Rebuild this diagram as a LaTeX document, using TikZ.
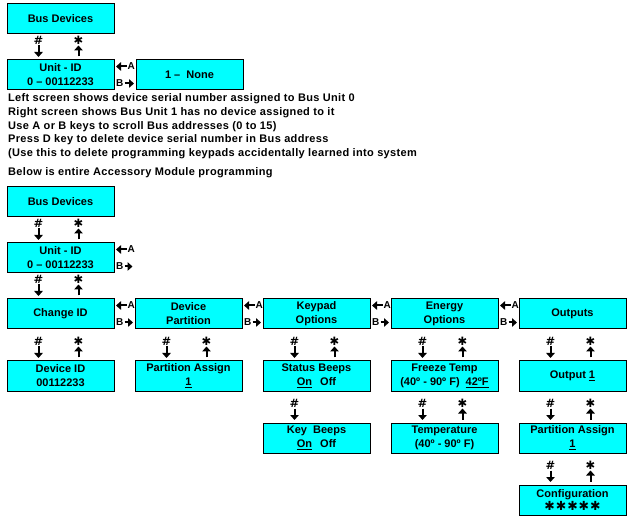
\documentclass[tikz,border=0pt]{standalone}
\usepackage{fontspec}
\setmainfont{Liberation Sans}
\newfontfamily\symfont{DejaVu Sans}
\usetikzlibrary{arrows.meta,calc}
\definecolor{lcd}{RGB}{0,255,255}

\tikzset{
    screen/.style={draw, line width=1pt, fill=lcd, minimum width=107pt, minimum height=30pt,
        inner sep=0pt, align=center, font=\bfseries\fontsize{11}{14}\selectfont},
    keylbl/.style={inner sep=0pt, font=\symfont\bfseries\fontsize{11.5}{13}\selectfont},
    ablbl/.style={inner sep=0pt, font=\bfseries\fontsize{10}{12}\selectfont},
    keyarr/.style={line width=2pt, -{Triangle[length=5pt,width=8.5pt]}},
    note/.style={anchor=base west, inner sep=0pt,
        font=\bfseries\fontsize{11}{13}\selectfont\addfontfeatures{LetterSpace=3}},
}
\newcommand{\astk}{{\symfont ✱}}
% # down into box #1
\newcommand{\hashdown}[2]{%
    \node[keylbl, anchor=south] (#2) at ($(#1.north west)+(32pt,15pt)$) {\#};
    \draw[keyarr, shorten <=1pt, shorten >=2.5pt] (#2.south) -- (#2.south |- #1.north);
}
% * up out of box #1
\newcommand{\starup}[2]{%
    \node[keylbl, anchor=south] (#2) at ($(#1.north west)+(72pt,15pt)$) {\astk};
    \draw[keyarr, shorten <=3pt, shorten >=1pt] (#2.south |- #1.north) -- (#2.south);
}
% A / B scroll keys on the right of box #1
\newcommand{\abkeys}[2]{%
    \node[ablbl, anchor=west] (#1A) at ($(#1.north east)+(13pt,-7pt)$) {A};
    \draw[keyarr, shorten <=1pt, shorten >=1.5pt] (#1A.west) -- (#1A.west -| #1.east);
    \node[ablbl, anchor=west] (#1B) at ($(#1.north east)+(1.5pt,-24pt)$) {B};
    \draw[keyarr, shorten <=1pt, shorten >=1.5pt] (#1B.east) -- (#1B.east -| #2);
}

\begin{document}
\begin{tikzpicture}[x=1pt, y=-1pt]
    \useasboundingbox (0,0) rectangle (629,518);

    % single bus unit
    \node[screen] (bus1) at (60.5,19) {Bus Devices};
    \node[screen] (u1) at (60.5,75) {Unit - ID\\0 -- 00112233};
    \node[screen] (u1n) at (189.5,75) {1 --\ \ None};
    \hashdown{u1}{h1}
    \starup{u1}{s1}
    \abkeys{u1}{u1n.west}

    \foreach \t/\y [count=\i] in {
        {Left screen shows device serial number assigned to Bus Unit 0}/102,
        {Right screen shows Bus Unit 1 has no device assigned to it}/116,
        {Use A or B keys to scroll Bus addresses (0 to 15)}/130,
        {Press D key to delete device serial number in Bus address}/143,
        {(Use this to delete programming keypads accidentally learned into system}/157,
        {Below is entire Accessory Module programming}/176} {
        \node[note] (note\i) at (8,\y) {\t};
    }

    % whole module
    \node[screen] (bus2) at (60.5,202) {Bus Devices};
    \node[screen] (u2) at (60.5,258) {Unit - ID\\0 -- 00112233};
    \coordinate (u2end) at (134,0);
    \hashdown{u2}{h2}
    \starup{u2}{s2}
    \abkeys{u2}{u2end}

    \node[screen] (cid) at (60.5,314) {Change ID};
    \node[screen] (dpt) at (188.5,314) {Device\\Partition};
    \node[screen] (kpo) at (316.5,314) {Keypad\\Options};
    \node[screen] (eno) at (444.5,314) {Energy\\Options};
    \node[screen] (out) at (572.5,314) {Outputs};
    \hashdown{cid}{h3}
    \starup{cid}{s3}
    \foreach \a/\b in {cid/dpt, dpt/kpo, kpo/eno, eno/out} {
        \abkeys{\a}{\b.west}
    }

    \node[screen] (devid) at (60.5,376) {Device ID\\00112233};
    \node[screen] (pas) at (188.5,376) {Partition Assign\\\underline{1}};
    \node[screen] (sbp) at (316.5,376) {Status Beeps\\\underline{On}\hspace{8pt}Off};
    \node[screen] (frz) at (444.5,376) {Freeze Temp\\(40º - 90º F)\hspace{6pt}\underline{42ºF}};
    \node[screen] (o1) at (572.5,376) {Output \underline{1}};
    \foreach \b [count=\i] in {devid, pas, sbp, frz, o1} {
        \hashdown{\b}{h4\i}
        \starup{\b}{s4\i}
    }

    \node[screen] (kbp) at (316.5,438) {Key\ \ Beeps\\\underline{On}\hspace{8pt}Off};
    \node[screen] (tmp) at (444.5,438) {Temperature\\(40º - 90º F)};
    \node[screen] (opa) at (572.5,438) {Partition Assign\\\underline{1}};
    \hashdown{kbp}{h51}
    \foreach \b [count=\i from 2] in {tmp, opa} {
        \hashdown{\b}{h5\i}
        \starup{\b}{s5\i}
    }

    \node[screen] (cfg) at (572.5,500) {Configuration\\[-1pt]{\fontsize{12.5}{12}\selectfont
        \astk\hspace{1pt}\astk\hspace{1pt}\astk\hspace{1pt}\astk\hspace{1pt}\astk}};
    \hashdown{cfg}{h6}
    \starup{cfg}{s6}
\end{tikzpicture}
\end{document}
